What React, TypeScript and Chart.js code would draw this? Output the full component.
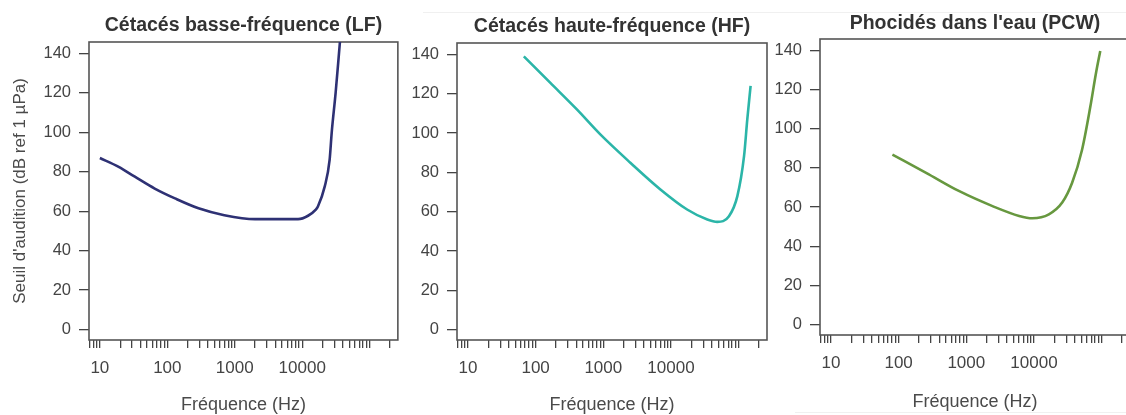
import React, { useEffect, useRef } from 'react';
import { Chart, registerables } from 'chart.js';

Chart.register(...registerables);

// ---- data ----
const lfFreq = [10, 19, 33, 65, 130, 290, 700, 2000, 8700, 12200, 15900, 17100, 21600, 25500, 27400, 31300, 35100, 36500];
const lfLevel = [87, 82.5, 77.5, 71.5, 66.5, 61.5, 58, 56, 56, 57.7, 60.8, 62.4, 72.6, 86, 100, 120, 140, 147];

const hfFreq = [67, 164, 407, 903, 2510, 6980, 17300, 34400, 48300, 71900, 95600, 120000, 134000, 150000];
const hfLevel = [139, 125.6, 112, 99.3, 84.9, 71.3, 61.1, 56, 54.8, 57.7, 67.9, 88.2, 106.9, 124];

const pcwFreq = [81, 255, 789, 2440, 6030, 9460, 16600, 26100, 36600, 51300, 68000, 82200, 95300];
const pcwLevel = [86.8, 77.5, 68.1, 60.5, 55.5, 54.3, 56.3, 62.3, 72.4, 89.3, 111.3, 128.2, 139.7];

const xTickLabels = [10, 100, 1000, 10000];
const xTickValues = [
  7, 8, 9,
  10, 20, 30, 40, 50, 60, 70, 80, 90,
  100, 200, 300, 400, 500, 600, 700, 800, 900,
  1000, 2000, 3000, 4000, 5000, 6000, 7000, 8000, 9000,
  10000, 20000, 30000, 40000, 50000, 60000, 70000, 80000, 90000,
  100000, 200000,
];
const yTickValues = [0, 20, 40, 60, 80, 100, 120, 140];

const X_MIN = 6.9;
const X_MAX = 262000;
const Y_MIN = -5.3;
const Y_MAX = 145.8;

const FONT = '"Liberation Sans", Arial, Helvetica, sans-serif';
const H = 415;

type Spec = {
  title: string;
  freq: number[];
  level: number[];
  color: string;
  left: number;
  width: number;
  area: { l: number; r: number; t: number; b: number };
  titleY: number;
  xTitlePad: number;
  yTitle?: string;
};

const specs: Spec[] = [
  {
    title: 'Cétacés basse-fréquence (LF)',
    freq: lfFreq,
    level: lfLevel,
    color: '#2e3174',
    left: 0,
    width: 400,
    area: { l: 89, r: 398, t: 42, b: 340 },
    titleY: 26,
    xTitlePad: 0,
    yTitle: "Seuil d'audition (dB ref 1 µPa)",
  },
  {
    title: 'Cétacés haute-fréquence (HF)',
    freq: hfFreq,
    level: hfLevel,
    color: '#2bb5a8',
    left: 400,
    width: 370,
    area: { l: 57, r: 367, t: 43, b: 340 },
    titleY: 27,
    xTitlePad: 0,
  },
  {
    title: "Phocidés dans l'eau (PCW)",
    freq: pcwFreq,
    level: pcwLevel,
    color: '#67983f',
    left: 770,
    width: 366,
    area: { l: 50, r: 360, t: 39, b: 335 },
    titleY: 24,
    xTitlePad: 3,
  },
];

function Panel({ spec }: { spec: Spec }) {
  const ref = useRef<HTMLCanvasElement | null>(null);
  useEffect(() => {
    if (!ref.current) return;
    const a = spec.area;
    const decor = {
      id: 'decor' + spec.left,
      beforeDatasetsDraw(chart: any) {
        const ca = chart.chartArea;
        const ctx = chart.ctx;
        ctx.save();
        ctx.strokeStyle = '#555';
        ctx.lineWidth = 1.6;
        ctx.strokeRect(ca.left, ca.top, ca.right - ca.left, ca.bottom - ca.top);
        ctx.restore();
      },
      afterDraw(chart: any) {
        const ca = chart.chartArea;
        const ctx = chart.ctx;
        ctx.save();
        ctx.fillStyle = '#333';
        ctx.font = 'bold 19.5px ' + FONT;
        ctx.textAlign = 'center';
        ctx.textBaseline = 'middle';
        ctx.fillText(spec.title, (ca.left + ca.right) / 2, spec.titleY);
        ctx.restore();
      },
    };
    const chart = new Chart(ref.current, {
      type: 'line',
      data: {
        datasets: [
          {
            data: spec.freq.map((f, i) => ({ x: f, y: spec.level[i] })),
            borderColor: spec.color,
            borderWidth: 2.6,
            pointRadius: 0,
            fill: false,
            cubicInterpolationMode: 'monotone',
          },
        ],
      },
      options: {
        responsive: false,
        animation: false,
        layout: { padding: { left: 0, top: a.t, right: spec.width - a.r, bottom: 0 } },
        plugins: {
          legend: { display: false },
          tooltip: { enabled: false },
          title: { display: false },
        },
        scales: {
          x: {
            type: 'logarithmic',
            position: 'bottom',
            min: X_MIN,
            max: X_MAX,
            afterBuildTicks: (s: any) => {
              s.ticks = xTickValues.filter((v) => v >= X_MIN && v <= X_MAX).map((v) => ({ value: v }));
            },
            afterFit: (s: any) => {
              s.height = H - a.b;
            },
            ticks: {
              autoSkip: false,
              maxRotation: 0,
              minRotation: 0,
              padding: 10,
              color: '#444',
              font: { family: FONT, size: 17 },
              callback: (v: any) => (xTickLabels.includes(Number(v)) ? String(v) : ''),
            },
            grid: { drawOnChartArea: false, drawTicks: true, tickLength: 8, color: '#444', lineWidth: 1.3 },
            border: { display: false },
            title: {
              display: true,
              text: 'Fréquence (Hz)',
              color: '#4a4a4a',
              font: { family: FONT, size: 18, lineHeight: 1.11 },
              padding: { top: 0, bottom: spec.xTitlePad },
            },
          },
          y: {
            type: 'linear',
            min: Y_MIN,
            max: Y_MAX,
            afterBuildTicks: (s: any) => {
              s.ticks = yTickValues.map((v) => ({ value: v }));
            },
            afterFit: (s: any) => {
              s.width = a.l;
            },
            ticks: {
              padding: 8,
              color: '#444',
              font: { family: FONT, size: 16.5 },
            },
            grid: { drawOnChartArea: false, drawTicks: true, tickLength: 10, color: '#444', lineWidth: 1.3 },
            border: { display: false },
            title: {
              display: !!spec.yTitle,
              text: spec.yTitle || '',
              color: '#4a4a4a',
              font: { family: FONT, size: 17, lineHeight: 1.2 },
              padding: { top: 10, bottom: 0 },
            },
          },
        },
      },
      plugins: [decor],
    } as any);
    return () => chart.destroy();
  }, [spec]);
  return (
    <canvas
      ref={ref}
      width={spec.width}
      height={H}
      style={{ position: 'absolute', left: spec.left, top: 0, width: spec.width, height: H }}
    />
  );
}

export default function App() {
  return (
    <div
      style={{
        position: 'fixed',
        left: 0,
        top: 0,
        width: 1126,
        height: H,
        overflow: 'hidden',
        background: '#fff',
      }}
    >
      <div style={{ position: 'absolute', left: 423, top: 12, width: 703, height: 1, background: '#f0f0f0' }} />
      <div style={{ position: 'absolute', left: 795, top: 412, width: 331, height: 1, background: '#f0f0f0' }} />
      {specs.map((s) => (
        <Panel key={s.left} spec={s} />
      ))}
    </div>
  );
}
